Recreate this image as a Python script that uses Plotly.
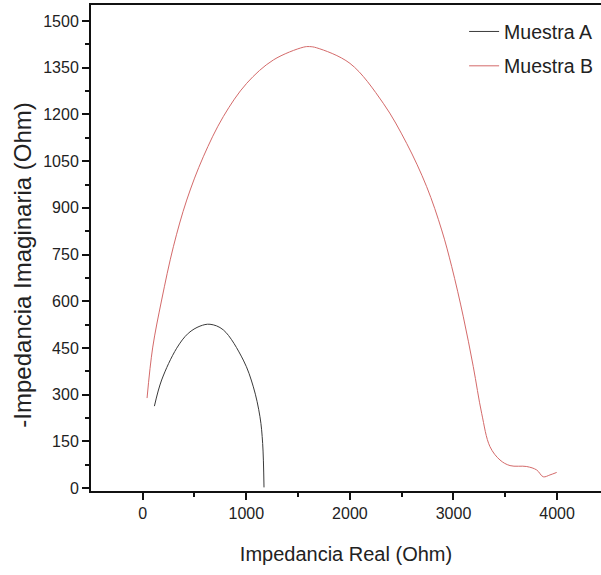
import plotly.graph_objects as go

# Muestra A (black)
a_real = [113, 183, 328, 440, 553, 650, 778, 971, 1068, 1132, 1158, 1171]
a_imag = [263, 347, 449, 497, 520, 526, 508, 411, 325, 229, 143, 2]

# Muestra B (red)
b_real = [42, 96, 183, 296, 425, 585, 778, 1004, 1261, 1550, 1610, 1680, 2001,
          2322, 2548, 2741, 2886, 2983, 3095, 3191, 3272, 3352, 3449, 3546, 3707,
          3803, 3867, 3931, 3996]
b_imag = [289, 450, 604, 775, 925, 1064, 1193, 1300, 1375, 1416, 1418, 1414, 1364,
          1236, 1107, 968, 829, 711, 550, 390, 240, 133, 90, 72, 69,
          58, 36, 42, 50]

x_ticks = [0, 1000, 2000, 3000, 4000]
y_ticks = [0, 150, 300, 450, 600, 750, 900, 1050, 1200, 1350, 1500]

FONT = "Liberation Sans, Arial, sans-serif"

fig = go.Figure()
fig.add_trace(go.Scatter(x=a_real, y=a_imag, mode="lines", name="Muestra A",
                         line=dict(color="#3a3a3a", width=1, shape="spline"),
                         legendgroup="a"))
fig.add_trace(go.Scatter(x=b_real, y=b_imag, mode="lines", name="Muestra B",
                         line=dict(color="#d46a6a", width=1, shape="spline"),
                         legendgroup="b"))

axis_common = dict(showgrid=False, zeroline=False, showline=True, linecolor="#111",
                   linewidth=2, ticks="outside", ticklen=7, tickwidth=1.5,
                   tickcolor="#111", tickfont=dict(family=FONT, size=16, color="#222"))

fig.update_xaxes(range=[-499, 4424], tickvals=x_ticks, mirror=True,
                 minor=dict(dtick=500, tick0=0, ticks="outside", ticklen=4,
                            tickwidth=1.5, tickcolor="#111"),
                 title=dict(text="Impedancia Real (Ohm)",
                            font=dict(family=FONT, size=20, color="#222"), standoff=26),
                 **axis_common)
fig.update_yaxes(range=[-9.6, 1551.6], tickvals=y_ticks,
                 minor=dict(dtick=75, tick0=0, ticks="outside", ticklen=4,
                            tickwidth=1.5, tickcolor="#111"),
                 **axis_common)

fig.add_annotation(text="-Impedancia Imaginaria (Ohm)", textangle=-90,
                   xref="paper", yref="paper", x=-0.136, y=0.465,
                   xanchor="center", yanchor="middle", showarrow=False,
                   font=dict(family=FONT, size=24, color="#222"))

fig.update_layout(
    width=601, height=575,
    margin=dict(l=91, r=0, t=5, b=84),
    paper_bgcolor="white", plot_bgcolor="white",
    showlegend=True,
    legend=dict(x=0.7316, y=0.985, xanchor="left", yanchor="top",
                bgcolor="rgba(0,0,0,0)", font=dict(family=FONT, size=19.5, color="#222"),
                traceorder="grouped", tracegroupgap=6),
)

fig.write_html("out.html")
